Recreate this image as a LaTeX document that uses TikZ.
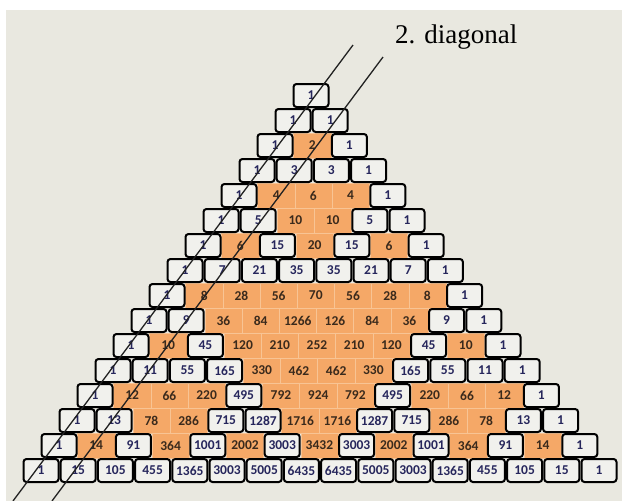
\documentclass[tikz,border=0pt]{standalone}
\usepackage{fontspec}
\setmainfont{Liberation Serif}
\newfontfamily\cellfont{Carlito}
\definecolor{bgbeige}{HTML}{E9E8E0}
\definecolor{cellwhite}{HTML}{F1F1ED}
\definecolor{cellorange}{HTML}{F5A867}
\definecolor{orangeedge}{HTML}{F8C494}
\definecolor{numodd}{HTML}{26265C}
\definecolor{numeven}{HTML}{3A2A1C}
\definecolor{linecol}{HTML}{222222}
\tikzset{
  oddcell/.style={rectangle, rounded corners=3pt, draw=black, line width=2pt,
    fill=cellwhite, minimum width=35pt, minimum height=23pt, inner sep=0pt,
    text=numodd, font=\cellfont\bfseries\fontsize{13.5}{13.5}\selectfont},
  evencell/.style={rectangle, draw=orangeedge, line width=0.6pt,
    fill=cellorange, minimum width=37.2pt, minimum height=25pt, inner sep=0pt,
    text=numeven, font=\cellfont\bfseries\fontsize{13.5}{13.5}\selectfont},
  diagline/.style={draw=linecol, line width=1.3pt},
  lbl/.style={font=\fontsize{27}{27}\selectfont, text=black, inner sep=0pt}
}
\def\pascalrows{{1},{1,1},{1,2,1},{1,3,3,1},{1,4,6,4,1},{1,5,10,10,5,1},{1,6,15,20,15,6,1},{1,7,21,35,35,21,7,1},{1,8,28,56,70,56,28,8,1},{1,9,36,84,1266,126,84,36,9,1},{1,10,45,120,210,252,210,120,45,10,1},{1,11,55,165,330,462,462,330,165,55,11,1},{1,12,66,220,495,792,924,792,495,220,66,12,1},{1,13,78,286,715,1287,1716,1716,1287,715,286,78,13,1},{1,14,91,364,1001,2002,3003,3432,3003,2002,1001,364,91,14,1},{1,15,105,455,1365,3003,5005,6435,6435,5005,3003,1365,455,105,15,1}}
\begin{document}
\begin{tikzpicture}[x=1pt,y=-1pt]
\useasboundingbox (0,0) rectangle (622,501);
\fill[white] (0,0) rectangle (622,501);
\fill[bgbeige] (6,10) rectangle (622,501);
% even cells first
\foreach \row [count=\r from 0] in \pascalrows {
  \foreach \v [count=\k from 0] in \row {
    \pgfmathsetmacro\cx{311+0.6*\r+(\k-\r/2)*37.2}
    \pgfmathsetmacro\cy{95.5+25*\r}
    \ifodd\v\relax\else
      \node[evencell] (c\r-\k) at (\cx,\cy) {\v};
    \fi
  }
}
% odd cells on top
\foreach \row [count=\r from 0] in \pascalrows {
  \foreach \v [count=\k from 0] in \row {
    \pgfmathsetmacro\cx{311+0.6*\r+(\k-\r/2)*37.2}
    \pgfmathsetmacro\cy{95.5+25*\r}
    \ifodd\v\relax
      \node[oddcell] (c\r-\k) at (\cx,\cy) {\v};
    \fi
  }
}
\coordinate (a1) at (13,501);
\coordinate (a2) at (353,45);
\coordinate (b1) at (52,501);
\coordinate (b2) at (383,57);
\draw[diagline] (a1) -- (a2);
\draw[diagline] (b1) -- (b2);
\node[lbl, anchor=base west] (label) at (395,43) {2. diagonal};
\end{tikzpicture}
\end{document}
